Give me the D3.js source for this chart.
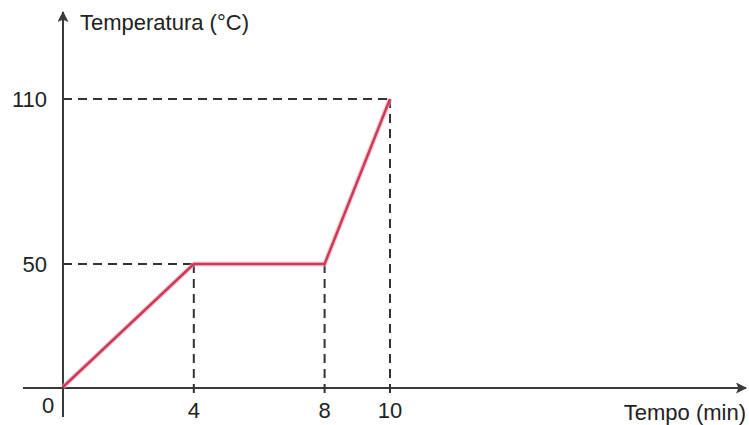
<!DOCTYPE html>
<html>
<head>
<meta charset="utf-8">
<script src="https://cdn.jsdelivr.net/npm/d3@7"></script>
<style>
  body { margin: 0; background: #fff; }
  text { font-family: Arial, "Liberation Sans", sans-serif; fill: #222; }
</style>
</head>
<body>
<script>
// Heating curve: time (min) vs temperature (°C)
const times = [0, 4, 8, 10];
const temps = [0, 50, 50, 110];
const xTicks = [4, 8, 10];
const yTicks = [50, 110];
const xLabel = 'Tempo (min)';
const yLabel = 'Temperatura (°C)';

const w = 749, h = 425;
const svg = d3.select('body').append('svg')
  .attr('width', w)
  .attr('height', h);

const x = d3.scaleLinear().domain([0, 10]).range([63, 390]);
// the drawing is schematic, so y is not uniform between the marked values
const y = d3.scaleLinear().domain([0, 50, 110]).range([387, 264, 99]);

const axisColor = '#3a3a3a';
const fs = 22;
const defs = svg.append('defs');
defs.append('marker')
  .attr('id', 'arrow')
  .attr('viewBox', '0 0 10 10')
  .attr('refX', 9).attr('refY', 5)
  .attr('markerWidth', 13).attr('markerHeight', 11)
  .attr('markerUnits', 'userSpaceOnUse')
  .attr('orient', 'auto')
  .append('path')
  .attr('d', 'M0,0 L10,5 L0,10 L2,5 Z')
  .attr('fill', axisColor);

// Axes
svg.append('line')
  .attr('x1', 23).attr('y1', y(0) + 1)
  .attr('x2', 746).attr('y2', y(0) + 1)
  .attr('stroke', axisColor).attr('stroke-width', 2)
  .attr('marker-end', 'url(#arrow)');
svg.append('line')
  .attr('x1', x(0)).attr('y1', 417)
  .attr('x2', x(0)).attr('y2', 12)
  .attr('stroke', axisColor).attr('stroke-width', 2)
  .attr('marker-end', 'url(#arrow)');

// Guide lines to the break points
const pts = times.map((t, i) => [t, temps[i]]);
const guides = svg.append('g')
  .attr('stroke', '#333')
  .attr('stroke-width', 2)
  .attr('stroke-dasharray', '9,6');
yTicks.forEach(v => {
  const p = pts.find(d => d[1] === v);
  guides.append('line')
    .attr('x1', x(0)).attr('y1', y(v))
    .attr('x2', x(p[0])).attr('y2', y(v));
});
xTicks.forEach(t => {
  const p = pts.find(d => d[0] === t);
  guides.append('line')
    .attr('x1', x(t)).attr('y1', y(p[1]))
    .attr('x2', x(t)).attr('y2', 397);
});

// Curve
const line = d3.line().x(d => x(d[0])).y(d => y(d[1]));
svg.append('path')
  .datum(pts)
  .attr('d', line)
  .attr('fill', 'none')
  .attr('stroke', '#f2a9b8')
  .attr('stroke-width', 5)
  .attr('stroke-linejoin', 'round')
  .attr('opacity', 0.6);
svg.append('path')
  .datum(pts)
  .attr('d', line)
  .attr('fill', 'none')
  .attr('stroke', '#cc3a58')
  .attr('stroke-width', 2.5)
  .attr('stroke-linejoin', 'round');

// Tick labels
svg.selectAll('text.xt')
  .data(xTicks)
  .join('text')
  .attr('class', 'xt')
  .attr('x', d => x(d))
  .attr('y', 418)
  .attr('text-anchor', 'middle')
  .attr('font-size', fs)
  .text(d => d);
svg.append('text')
  .attr('x', 48).attr('y', 413)
  .attr('text-anchor', 'middle')
  .attr('font-size', fs)
  .text('0');
svg.selectAll('text.yt')
  .data(yTicks)
  .join('text')
  .attr('class', 'yt')
  .attr('x', 47)
  .attr('y', d => y(d) + 8)
  .attr('text-anchor', 'end')
  .attr('font-size', fs)
  .text(d => d);

// Axis titles
svg.append('text')
  .attr('x', 80).attr('y', 30)
  .attr('font-size', fs)
  .text(yLabel);
svg.append('text')
  .attr('x', 746).attr('y', 420)
  .attr('text-anchor', 'end')
  .attr('font-size', fs)
  .text(xLabel);
</script>
</body>
</html>
